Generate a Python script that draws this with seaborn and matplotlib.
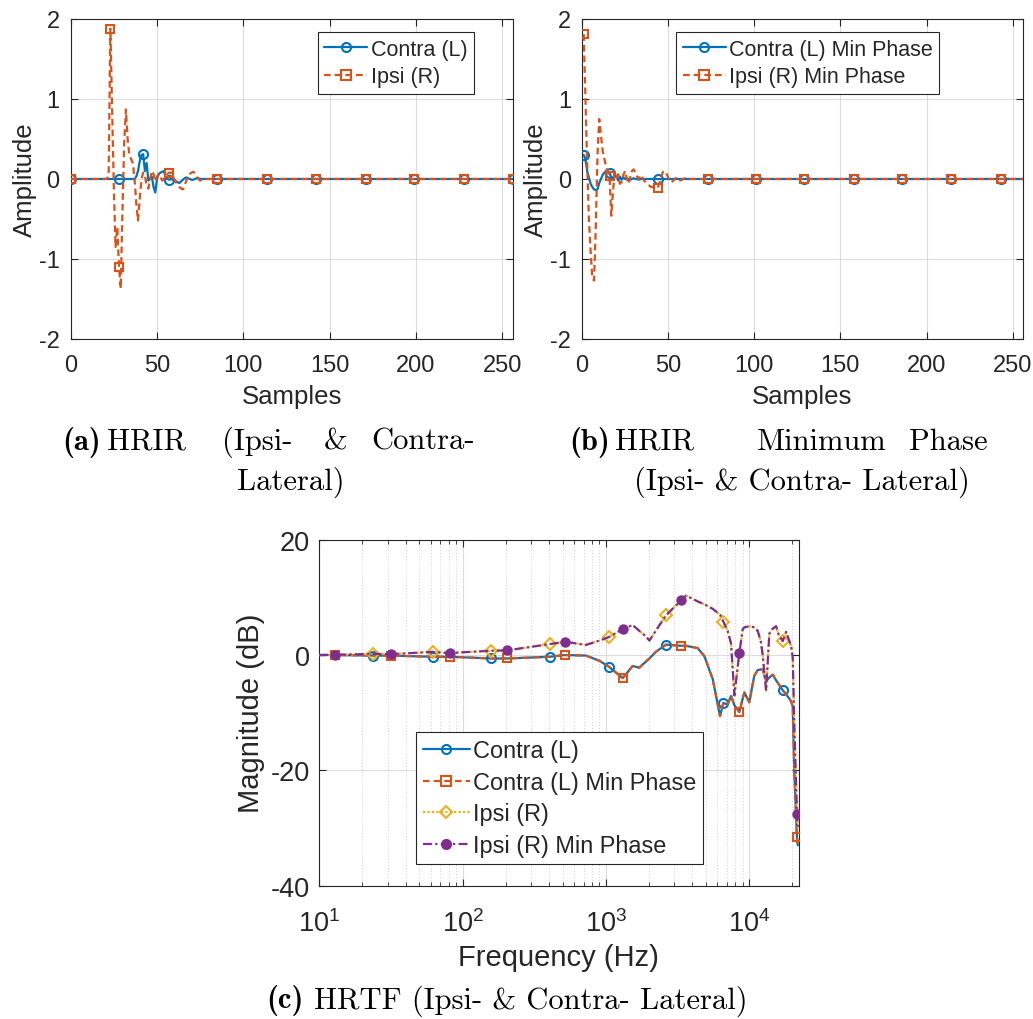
import numpy as np
import matplotlib
matplotlib.use("Agg")
import matplotlib.pyplot as plt
from matplotlib.lines import Line2D
import seaborn as sns

# ---------------- data ----------------
n_samples = 257  # samples 0..256

# HRIR (original) - values from sample 36 (contra) / 20 (ipsi), zeros elsewhere
contra_start = 36
contra_hrir_vals = [0.0, 0.0, 0.03, 0.10, 0.22, 0.30, 0.31, 0.10, 0.20, -0.02,
                    0.0, 0.03, -0.10, -0.17, 0.0, 0.06, 0.08, 0.09, 0.10, 0.02,
                    0.0, -0.01, 0.0, -0.01, -0.02, -0.03, -0.04, -0.05, -0.03, -0.01,
                    0.01, 0.02, 0.01, 0.0, -0.01, -0.01, 0.0, 0.01, 0.01, 0.0]
ipsi_start = 20
ipsi_hrir_vals = [0.0, 0.0, 0.05, 1.88, 0.9, -0.1, -0.85, -0.6, -1.10, -1.37,
                  -0.4, 0.45, 0.87, 0.5, 0.3, 0.25, 0.2, 0.0, -0.3, -0.52,
                  -0.25, 0.0, 0.08, 0.05, -0.08, -0.12, 0.0, 0.1, 0.06, -0.03,
                  0.03, 0.06, 0.03, -0.02, 0.0, 0.04, 0.06, 0.08, 0.08, 0.04,
                  0.0, -0.04, -0.07, -0.10, -0.12, -0.13, -0.08, -0.02, 0.03, 0.06,
                  0.08, 0.09, 0.07, 0.03, 0.0, -0.02, -0.01, 0.0]
hrir_markers_contra = [0, 28, 42, 57, 85, 114, 142, 171, 199, 228, 256]
hrir_markers_ipsi = [0, 23, 28, 57, 85, 114, 142, 171, 199, 228, 256]

# HRIR minimum phase - samples 1..256
mp_contra_vals = [0.30, 0.25, 0.10, 0.02, -0.06, -0.10, -0.13, -0.14, -0.13, -0.05,
                  0.0, 0.05, 0.08, 0.10, 0.09, 0.08, 0.02, -0.01, 0.03, 0.04,
                  -0.02, 0.03, -0.01, 0.02, 0.0, 0.01, 0.0, -0.01, 0.0, 0.01,
                  0.0, 0.0, -0.01, 0.0]
mp_ipsi_vals = [1.81, 1.0, 0.2, -0.5, -0.9, -1.24, -1.27, -0.6, 0.3, 0.75,
                0.55, 0.35, 0.25, 0.15, 0.08, 0.04, -0.46, -0.15, 0.08, 0.02,
                0.06, -0.06, -0.04, 0.05, 0.10, 0.0, -0.06, 0.02, 0.10, 0.12,
                0.08, 0.03, 0.0, 0.05, 0.02, -0.02, -0.04, -0.06, -0.08, -0.10,
                -0.10, -0.11, -0.12, -0.11, -0.05, 0.03, 0.09, 0.10, 0.07, 0.02,
                -0.02, -0.04, -0.02, 0.0, 0.02, 0.0, -0.02, -0.01, 0.0, 0.01]
mp_markers = [1, 16, 44, 73, 101, 129, 158, 186, 214, 243]

# HRTF magnitude (dB)
freq_hz = [10, 12.9, 23.8, 31.6, 61.8, 81.6, 159, 203, 407, 518,
           726, 900, 1045, 1310, 1535, 1709, 1905, 2009, 2238, 2626,
           3350, 3620, 4365, 4860, 5560, 6250, 6590, 7060, 7460, 7870,
           8530, 9000, 9250, 10000, 10830, 11450, 12070, 12400, 13100, 13800,
           14600, 15380, 16000, 17100, 18070, 19570, 20100, 20600, 21500, 21800]
contra_db = [0.0, 0.0, -0.1, -0.1, -0.3, -0.3, -0.6, -0.6, -0.3, 0.0,
             -0.1, -1.0, -2.0, -4.0, -1.9, -2.2, -1.1, -0.6, 0.6, 1.8,
             1.6, 1.6, 1.2, -0.2, -4.2, -10.6, -8.3, -8.6, -7.1, -8.7,
             -9.9, -7.5, -6.5, -8.2, -3.6, -2.6, -2.5, -2.5, -4.5, -3.9,
             -3.4, -4.4, -5.0, -6.1, -6.8, -8.0, -8.9, -20.0, -31.6, -33.0]
ipsi_db = [0.0, 0.05, 0.2, 0.15, 0.55, 0.35, 0.75, 0.8, 1.9, 2.3,
           1.75, 2.5, 3.1, 4.5, 5.2, 4.2, 3.2, 2.5, 4.3, 6.9,
           9.5, 10.3, 9.3, 8.8, 8.0, 7.0, 5.8, 4.2, 2.0, -7.0,
           0.4, 4.5, 4.8, 5.0, 4.8, 4.2, 2.2, 0.0, -6.2, 3.7,
           4.6, 5.0, 3.6, 2.4, 4.0, 1.6, -0.5, -12.0, -27.5, -30.0]
markers_a = [23.8, 61.8, 159, 407, 1045, 2626, 6590, 17100]
markers_b = [12.9, 31.6, 81.6, 203, 518, 1310, 3350, 8530, 21500]

# ---------------- build arrays ----------------
samples = np.arange(n_samples)
contra_hrir = np.zeros(n_samples)
contra_hrir[contra_start:contra_start + len(contra_hrir_vals)] = contra_hrir_vals
ipsi_hrir = np.zeros(n_samples)
ipsi_hrir[ipsi_start:ipsi_start + len(ipsi_hrir_vals)] = ipsi_hrir_vals

mp_samples = np.arange(1, n_samples)
mp_contra = np.zeros(len(mp_samples))
mp_contra[:len(mp_contra_vals)] = mp_contra_vals
mp_ipsi = np.zeros(len(mp_samples))
mp_ipsi[:len(mp_ipsi_vals)] = mp_ipsi_vals

freq = np.array(freq_hz, dtype=float)
idx_a = list(np.where(np.isin(freq, markers_a))[0])
idx_b = list(np.where(np.isin(freq, markers_b))[0])

# ---------------- style ----------------
sns.set_theme(style="ticks")
TXT = "#262626"
plt.rcParams.update({
    "font.family": ["Liberation Sans", "DejaVu Sans"],
    "axes.unicode_minus": False,
    "axes.edgecolor": TXT,
    "axes.linewidth": 0.8,
    "xtick.color": TXT, "ytick.color": TXT,
    "xtick.labelcolor": TXT, "ytick.labelcolor": TXT,
    "axes.labelcolor": TXT,
    "xtick.direction": "in", "ytick.direction": "in",
    "xtick.top": True, "ytick.right": True,
    "xtick.major.size": 5, "ytick.major.size": 5,
    "xtick.minor.size": 3, "ytick.minor.size": 3,
    "xtick.major.width": 0.8, "ytick.major.width": 0.8,
    "xtick.minor.width": 0.6,
})

BLUE = "#0072BD"
ORANGE = "#D95319"
YELLOW = "#EDB120"
PURPLE = "#7E2F8E"
LW = 1.6
MS = 6.5
MEW = 1.5
DASH = (3.0, 1.8)

fig = plt.figure(figsize=(10.33, 10.2), dpi=100)
ax1 = fig.add_axes([0.0684, 0.6667, 0.4279, 0.3137])
ax2 = fig.add_axes([0.5634, 0.6667, 0.4269, 0.3137])
ax3 = fig.add_axes([0.3091, 0.1307, 0.4639, 0.3392])

grid_kw = dict(color="#dcdcdc", linewidth=0.8)


def style_hrir(ax):
    ax.set_xlim(0, 256)
    ax.set_ylim(-2, 2)
    ax.set_xticks([0, 50, 100, 150, 200, 250])
    ax.set_yticks([-2, -1, 0, 1, 2])
    ax.grid(True, **grid_kw)
    ax.set_axisbelow(True)
    ax.tick_params(labelsize=17)
    ax.tick_params(axis="x", pad=10.5)
    ax.tick_params(axis="y", pad=8)
    ax.set_xlabel("Samples", fontsize=18.5, labelpad=6)
    ax.set_ylabel("Amplitude", fontsize=18.5, labelpad=1.5)
    for s in ax.spines.values():
        s.set_visible(True)


def handle(color, ls, marker, mfc="none", dashes=None):
    h = Line2D([], [], color=color, linestyle=ls, linewidth=LW, marker=marker,
               markersize=MS, markerfacecolor=mfc, markeredgecolor=color,
               markeredgewidth=MEW)
    if dashes is not None:
        h.set_dashes(dashes)
    return h


# ---- (a) HRIR ----
sns.lineplot(x=samples, y=contra_hrir, ax=ax1, color=BLUE, linewidth=LW,
             marker="o", markersize=MS, markerfacecolor="none",
             markeredgecolor=BLUE, markeredgewidth=MEW,
             markevery=hrir_markers_contra, errorbar=None, zorder=3)
sns.lineplot(x=samples, y=ipsi_hrir, ax=ax1, color=ORANGE, linewidth=LW,
             marker="s", markersize=MS - 0.5, markerfacecolor="none",
             markeredgecolor=ORANGE, markeredgewidth=MEW,
             markevery=hrir_markers_ipsi, errorbar=None, zorder=3)
ax1.lines[-1].set_dashes(DASH)
style_hrir(ax1)
ax1.legend([handle(BLUE, "-", "o"), handle(ORANGE, "--", "s", dashes=DASH)],
           ["Contra (L)", "Ipsi (R)"], loc="upper right",
           bbox_to_anchor=(0.912, 0.958), fontsize=15.5, frameon=True,
           fancybox=False, edgecolor=TXT, framealpha=1, handlelength=2.0,
           handletextpad=0.15, labelspacing=0.3, borderpad=0.3,
           borderaxespad=0.0).get_frame().set_linewidth(0.8)

# ---- (b) HRIR min phase ----
mp_idx = list(np.where(np.isin(mp_samples, mp_markers))[0])
sns.lineplot(x=mp_samples, y=mp_contra, ax=ax2, color=BLUE, linewidth=LW,
             marker="o", markersize=MS, markerfacecolor="none",
             markeredgecolor=BLUE, markeredgewidth=MEW,
             markevery=mp_idx, errorbar=None, zorder=3)
sns.lineplot(x=mp_samples, y=mp_ipsi, ax=ax2, color=ORANGE, linewidth=LW,
             marker="s", markersize=MS - 0.5, markerfacecolor="none",
             markeredgecolor=ORANGE, markeredgewidth=MEW,
             markevery=mp_idx, errorbar=None, zorder=3)
ax2.lines[-1].set_dashes(DASH)
style_hrir(ax2)
ax2.legend([handle(BLUE, "-", "o"), handle(ORANGE, "--", "s", dashes=DASH)],
           ["Contra (L) Min Phase", "Ipsi (R) Min Phase"], loc="upper right",
           bbox_to_anchor=(0.81, 0.958), fontsize=15.5, frameon=True,
           fancybox=False, edgecolor=TXT, framealpha=1, handlelength=2.0,
           handletextpad=0.15, labelspacing=0.3, borderpad=0.3,
           borderaxespad=0.0).get_frame().set_linewidth(0.8)

# ---- (c) HRTF ----
sns.lineplot(x=freq, y=contra_db, ax=ax3, color=BLUE, linewidth=LW,
             marker="o", markersize=MS, markerfacecolor="none",
             markeredgecolor=BLUE, markeredgewidth=MEW, markevery=idx_a,
             errorbar=None, zorder=3)
sns.lineplot(x=freq, y=contra_db, ax=ax3, color=ORANGE, linewidth=LW,
             marker="s", markersize=MS - 0.5, markerfacecolor="none",
             markeredgecolor=ORANGE, markeredgewidth=MEW, markevery=idx_b,
             errorbar=None, zorder=3)
ax3.lines[-1].set_dashes(DASH)
sns.lineplot(x=freq, y=ipsi_db, ax=ax3, color=YELLOW, linewidth=LW,
             marker="D", markersize=MS - 0.5, markerfacecolor="none",
             markeredgecolor=YELLOW, markeredgewidth=MEW, markevery=idx_a,
             errorbar=None, zorder=3)
ax3.lines[-1].set_dashes((1.0, 1.0))
sns.lineplot(x=freq, y=ipsi_db, ax=ax3, color=PURPLE, linewidth=LW,
             marker="o", markersize=MS - 0.5, markerfacecolor=PURPLE,
             markeredgecolor=PURPLE, markeredgewidth=MEW, markevery=idx_b,
             errorbar=None, zorder=3)
ax3.lines[-1].set_dashes((4.0, 1.5, 1.0, 1.5))
ax3.set_xscale("log")
ax3.set_xlim(10, 22050)
ax3.set_ylim(-40, 20)
ax3.set_yticks([-40, -20, 0, 20])
ax3.grid(True, which="major", **grid_kw)
ax3.grid(True, which="minor", axis="x", color="#d0d0d0", linewidth=0.7,
         linestyle=(0, (1.0, 2.0)))
ax3.set_axisbelow(True)
ax3.tick_params(labelsize=19.5)
ax3.tick_params(axis="x", pad=17)
ax3.tick_params(axis="y", pad=7)
ax3.set_xlabel("Frequency (Hz)", fontsize=21, labelpad=4)
ax3.set_ylabel("Magnitude (dB)", fontsize=21, labelpad=4)
for s in ax3.spines.values():
    s.set_visible(True)
leg3 = ax3.legend(
    [handle(BLUE, "-", "o"), handle(ORANGE, "--", "s", dashes=DASH),
     handle(YELLOW, ":", "D", dashes=(1.0, 1.0)),
     handle(PURPLE, "-.", "o", mfc=PURPLE, dashes=(4.0, 1.5, 1.0, 1.5))],
    ["Contra (L)", "Contra (L) Min Phase", "Ipsi (R)", "Ipsi (R) Min Phase"],
    loc="lower left", bbox_to_anchor=(0.201, 0.063), fontsize=16.9,
    frameon=True, fancybox=False, edgecolor=TXT, framealpha=1,
    handlelength=2.0, handletextpad=0.15, labelspacing=0.36, borderpad=0.3,
    borderaxespad=0.0)
leg3.get_frame().set_linewidth(0.8)

# ---- captions ----
W, H = 1033.0, 1020.0
CAP = 22
def cap(x, y, s, ha="center", bold=False):
    fig.text(x / W, 1 - y / H, s, ha=ha, va="center", fontsize=CAP,
             family="cmb10" if bold else "cmr10", color="black")

cap(62, 442, "(a)", ha="left", bold=True)
cap(146, 442, "HRIR")
cap(257, 442, "(Ipsi-")
cap(336, 442, "&")
cap(475, 442, "Contra-", ha="right")
cap(291, 482, "Lateral)")

cap(569, 442, "(b)", ha="left", bold=True)
cap(655, 442, "HRIR")
cap(822, 442, "Minimum")
cap(988, 442, "Phase", ha="right")
cap(802, 482, "(Ipsi- & Contra- Lateral)")

cap(304, 1001, "(c)", ha="right", bold=True)
cap(314, 1001, "HRTF (Ipsi- & Contra- Lateral)", ha="left")

fig.savefig("out.png", dpi=100, facecolor="white")
